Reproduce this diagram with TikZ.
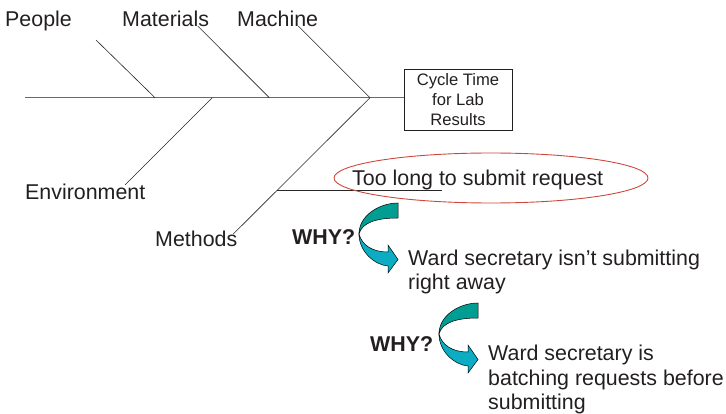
\documentclass[tikz,border=0pt]{standalone}
\usepackage{fontspec}
\setmainfont{Liberation Sans}
\usetikzlibrary{positioning,shapes.geometric}
\definecolor{inkdark}{RGB}{35,31,32}
\definecolor{spinegray}{RGB}{105,105,105}
\definecolor{ringred}{RGB}{204,72,60}
\definecolor{whyteal}{RGB}{0,157,146}
\definecolor{whycyan}{RGB}{12,172,194}

\begin{document}
\begin{tikzpicture}[x=1pt,y=-1pt,
          lbl/.style={font=\fontsize{21.4}{24.5}\selectfont, text=inkdark, inner sep=0pt, anchor=base west},
          why/.style={lbl, font=\fontsize{21.4}{24.5}\selectfont\bfseries},
          bone/.style={draw=black!85, line width=0.6pt},
          whyarrow/.pic={
            \draw[black, line width=0.5pt, fill=whyteal] (0,0) .. controls (-18,0) and (-39,12) .. (-39,31)
              .. controls (-36,19) and (-20,15) .. (0,15) -- cycle;
            \draw[black, line width=0.5pt, fill=whycyan] (-39,31) .. controls (-39,49) and (-23,62) .. (-10,63)
              -- (-10,70) -- (0,56.5) -- (-10,42) -- (-10,49) .. controls (-26,49) and (-36,42) .. (-39,31) -- cycle;
          }]
        \useasboundingbox (0,0) rectangle (726,414);
        \node[draw=inkdark, line width=0.6pt, minimum width=108pt, minimum height=61.5pt, align=center,
              font=\fontsize{16.6}{20}\selectfont, text=inkdark] (effect) at (458,100) {Cycle Time\\for Lab\\Results};
        \coordinate (tail) at (25,97.7);
        \draw[spinegray, line width=0.8pt] (tail) -- (tail -| effect.west);
        \coordinate (bPeople) at (96,40);           \coordinate (jPeople) at (155,97.7);
        \coordinate (bMaterials) at (197.7,26);     \coordinate (jMaterials) at (269.3,97.7);
        \coordinate (bMachine) at (298.3,26);       \coordinate (jMachine) at (370,97.7);
        \coordinate (bEnvironment) at (125,185);    \coordinate (jEnvironment) at (212.3,97.7);
        \coordinate (bMethods) at (233.3,234);      \coordinate (jMethods) at (370,97.7);
        \foreach \b in {People,Materials,Machine,Environment,Methods} \draw[bone] (b\b) -- (j\b);
        \coordinate (subA) at (277,190);
        \coordinate (subB) at (442,190);
        \draw[bone] (subA) -- (subB);
        \node[lbl] (people) at (5,27) {People};
        \node[lbl] (materials) at (122,27) {Materials};
        \node[lbl] (machine) at (237,27) {Machine};
        \node[lbl] (environment) at (25,200) {Environment};
        \node[lbl] (methods) at (155,247) {Methods};
        \node[lbl] (cause) at (352,186) {Too long to submit request};
        \node[draw=ringred, line width=0.9pt, ellipse, minimum width=314pt, minimum height=50pt, inner sep=0pt] (ring) at (491,178) {};
        \pic (arrowA) at (398,203) {whyarrow};
        \pic (arrowB) at (478,303) {whyarrow};
        \node[why] (whyA) at (292,245) {WHY?};
        \node[why] (whyB) at (370,351) {WHY?};
        \node[lbl, anchor=north west, align=left] (wardA) at (408,249.4) {Ward secretary isn’t submitting\\right away};
        \node[lbl, anchor=north west, align=left] (wardB) at (488,345.1) {Ward secretary is\\batching requests before\\submitting};
      \end{tikzpicture}
\end{document}
